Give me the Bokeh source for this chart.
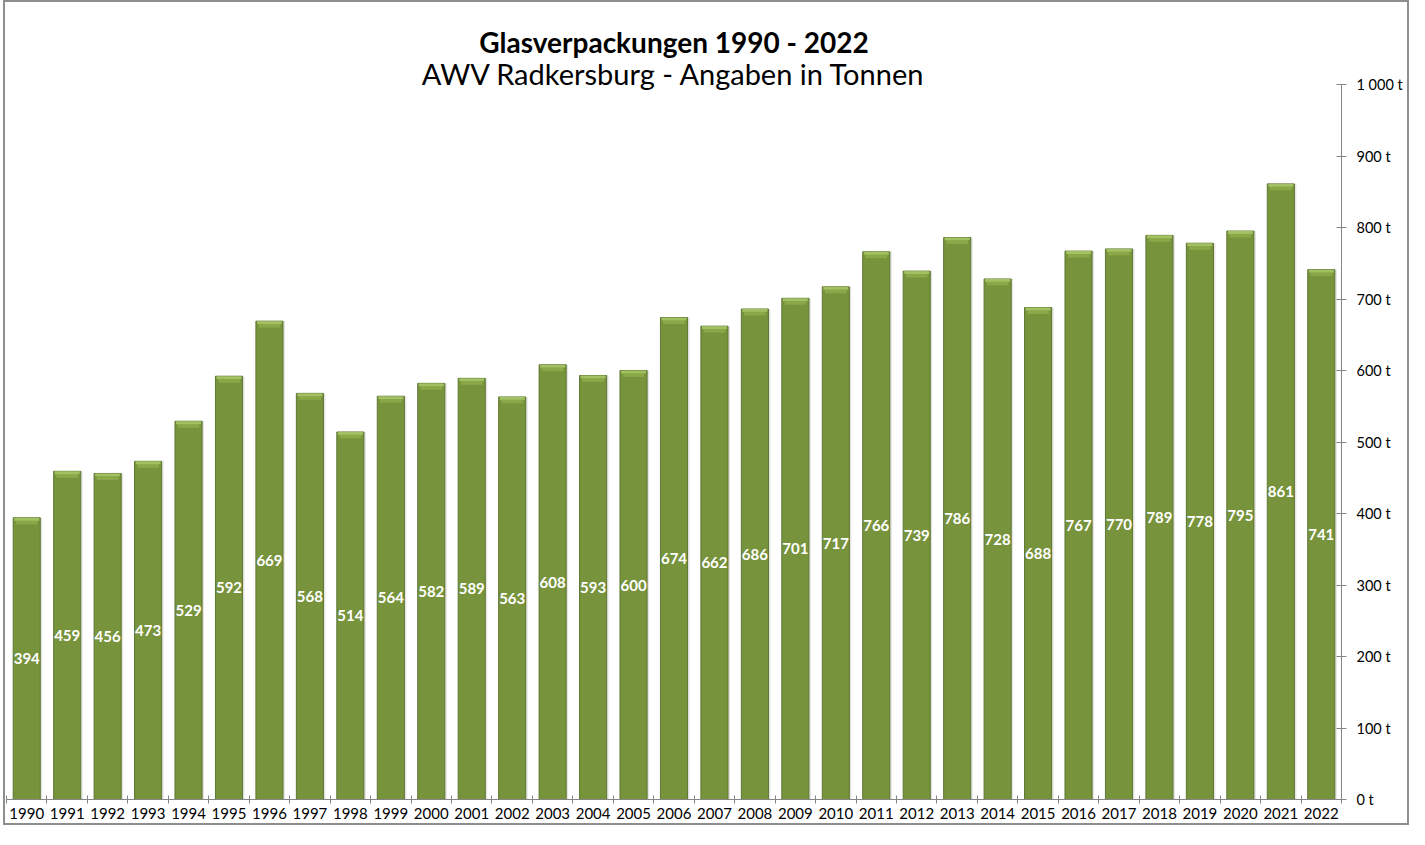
from bokeh.plotting import figure
from bokeh.models import ColumnDataSource, FixedTicker, Range1d, Title
from bokeh.transform import dodge
from bokeh.core.properties import value
from bokeh.embed import file_html
from bokeh.resources import INLINE

# ---- data ----
years = ["1990", "1991", "1992", "1993", "1994", "1995", "1996", "1997", "1998", "1999",
         "2000", "2001", "2002", "2003", "2004", "2005", "2006", "2007", "2008", "2009",
         "2010", "2011", "2012", "2013", "2014", "2015", "2016", "2017", "2018", "2019",
         "2020", "2021", "2022"]
tonnes = [394, 459, 456, 473, 529, 592, 669, 568, 514, 564,
          582, 589, 563, 608, 593, 600, 674, 662, 686, 701,
          717, 766, 739, 786, 728, 688, 767, 770, 789, 778,
          795, 861, 741]
y_ticks = [0, 100, 200, 300, 400, 500, 600, 700, 800, 900, 1000]
y_tick_labels = ["0 t", "100 t", "200 t", "300 t", "400 t", "500 t", "600 t",
                 "700 t", "800 t", "900 t", "1 000 t"]
title_text = "Glasverpackungen 1990 - 2022"
subtitle_text = "AWV Radkersburg - Angaben in Tonnen"

FONT = "Lato"
n = len(years)
xs = list(range(n))
src = ColumnDataSource(dict(
    x=xs, top=tonnes, mid=[v / 2 for v in tonnes], lab=[str(v) for v in tonnes],
    b1=[v - 4 for v in tonnes], b2=[v - 9 for v in tonnes],
))

p = figure(width=1406, height=825, output_backend="svg", toolbar_location=None,
           x_range=Range1d(-0.5, n - 0.5), y_range=Range1d(0, 1000),
           y_axis_location="right",
           min_border_left=1, min_border_right=70, min_border_top=82, min_border_bottom=28)
p.styles = {"border": "2px solid #8e8e8e", "margin-left": "3px"}
p.outline_line_color = None
p.xgrid.visible = False
p.ygrid.visible = False
p.background_fill_color = "white"
p.border_fill_color = "white"

# titles (subtitle first: closest to frame)
p.add_layout(Title(text=subtitle_text, align="center", text_font=FONT,
                   text_font_size="29px", text_font_style="normal",
                   text_color="#000000", standoff=-12), "above")
p.add_layout(Title(text=title_text, align="center", text_font=FONT,
                   text_font_size="28px", text_font_style="bold",
                   text_color="#000000", standoff=2), "above")

bw = 0.67
# shadow
p.vbar(x=dodge("x", 0.05, range=p.x_range), top="top", bottom=0, width=bw, source=src,
       fill_color="#000000", fill_alpha=0.10, line_color=None)
# bars
p.vbar(x="x", top="top", bottom=0, width=bw, source=src,
       fill_color="#77933C", line_color="#5E7731", line_width=1)
# top bevel bands
p.vbar(x="x", top="b1", bottom="b2", width=bw * 0.8, source=src,
       fill_color="#8BA849", line_color=None)
p.vbar(x="x", top="top", bottom="b1", width=bw * 0.92, source=src,
       fill_color="#A3C162", line_color=None)

# value labels
p.text(x="x", y="mid", text="lab", source=src, text_align="center",
       text_baseline="middle", text_color="white", text_font=value(FONT),
       text_font_size="15px", text_font_style="bold")

# x axis: labels at centres, ticks at boundaries (minor ticks)
xa = p.xaxis[0]
xa.ticker = FixedTicker(ticks=xs, minor_ticks=[i - 0.5 for i in range(n + 1)])
xa.major_label_overrides = {i: years[i] for i in xs}
xa.major_tick_in = 0
xa.major_tick_out = 0
xa.minor_tick_in = 4
xa.minor_tick_out = 4
xa.minor_tick_line_color = "#868686"
xa.axis_line_color = "#868686"
xa.major_label_text_font = FONT
xa.major_label_text_font_size = "15px"
xa.major_label_text_color = "#000000"
xa.major_label_standoff = 4

ya = p.yaxis[0]
ya.ticker = FixedTicker(ticks=y_ticks, minor_ticks=[])
ya.major_label_overrides = {t: l for t, l in zip(y_ticks, y_tick_labels)}
ya.major_tick_in = 5
ya.major_tick_out = 5
ya.major_tick_line_color = "#868686"
ya.axis_line_color = "#868686"
ya.major_label_text_font = FONT
ya.major_label_text_font_size = "14.5px"
ya.major_label_text_color = "#000000"
ya.major_label_standoff = 10

open("out.html", "w").write(file_html(p, INLINE))
